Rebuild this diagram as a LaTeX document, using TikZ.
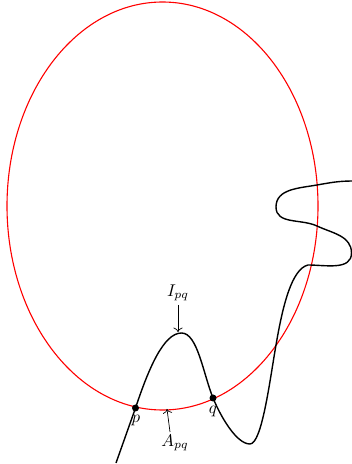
\documentclass[tikz,border=0pt]{standalone}
\usetikzlibrary{arrows.meta}
\begin{document}
\begin{tikzpicture}[x=1pt,y=1pt,
  curve/.style={line width=1.4pt},
  ell/.style={red,line width=1.1pt},
  dotpt/.style={circle,fill,inner sep=0pt,minimum size=7pt},
  lab/.style={inner sep=1pt,scale=1.7},
  pointer/.style={-{To[scale=1.4]},line width=0.7pt}]
\useasboundingbox (0,0) rectangle (352,464);
\draw[ell] (162.5,258) ellipse [x radius=155.5, y radius=204];
\coordinate (s) at (116,1);
\coordinate (peak) at (181.5,131);
\coordinate (tr) at (250,20);
\coordinate (c1) at (276,119);
\coordinate (k) at (308,199);
\coordinate (r) at (351.5,211);
\coordinate (m) at (317,238);
\coordinate (l) at (276,257);
\coordinate (u) at (317,279);
\coordinate (e) at (353,283);
\node[dotpt] (p) at (135.5,56) {};
\node[dotpt] (q) at (213,66) {};
\draw[curve] (s) -- (p.center)
  .. controls (148.5,95) and (163.5,131) .. (peak)
  .. controls (197.5,131) and (203,91) .. (q.center)
  .. controls (220,49) and (236,20) .. (tr)
  .. controls (262,20) and (270,85) .. (c1)
  .. controls (283,160) and (292,195) .. (k)
  to[out=0,in=-90] (r) to[out=90,in=-25] (m) to[out=155,in=-90] (l)
  to[out=90,in=190] (u) to[out=10,in=180] (e);
\node[lab] (plab) at (136,44) {$p$};
\node[lab] (qlab) at (213,53) {$q$};
\node[lab] (I) at (178,171) {$I_{pq}$};
\node[lab] (A) at (175,21) {$A_{pq}$};
\coordinate (itop) at (178,159);
\coordinate (ibot) at (178,132);
\draw[pointer] (itop) -- (ibot);
\coordinate (abot) at (170,32);
\coordinate (a) at (167,55);
\draw[pointer] (abot) -- (a);
\end{tikzpicture}
\end{document}
